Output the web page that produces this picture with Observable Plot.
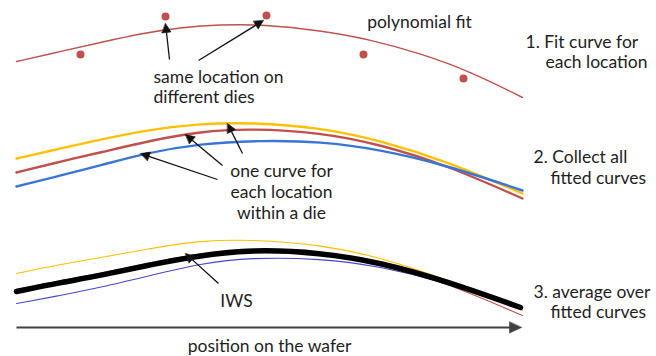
<!DOCTYPE html>
<html><head><meta charset="utf-8">
<script src="https://cdn.jsdelivr.net/npm/d3@7"></script>
<script src="https://cdn.jsdelivr.net/npm/@observablehq/plot@0.6"></script>
<style>html,body{margin:0;padding:0;background:#fff}#chart svg{display:block}</style>
</head><body><div id="chart"></div>
<script>
// ---- Step 1: measurements of one location on different dies and its fitted curve
const dieValues = [[80,54],[165,16],[266,15],[363,54],[463,78]];
const fitCurve = [[16,61],[60,51],[100,42],[140,33],[180,27],[220,24],[263,24],[320,30],[370,39],[420,53],[470,71],[522,97]];

// ---- Step 2: fitted curves, one per location within a die
const curveYellow = [[16,158],[60,148],[100,139],[150,129],[200,123],[250,122],[320,127],[380,140],[447,161],[522,193]];
const curveRed    = [[16,172],[60,161],[100,152],[150,140],[200,131],[250,128],[320,132],[380,144],[447,165],[522,198]];
const curveBlue   = [[16,186],[60,175],[100,165],[143,153],[200,143],[260,140],[320,141],[380,149],[447,165],[522,190]];

// ---- Step 3: fitted curves and their average (IWS)
const avgYellow = [[16,273],[60,264],[100,257],[150,248],[200,240],[250,239],[320,244],[380,257],[447,279],[522,310]];
const avgRed    = [[16,289],[60,280],[100,273],[150,262],[200,253],[250,248],[320,251],[380,262],[447,283],[522,315]];
const avgBlue   = [[16,303],[60,295],[100,287],[150,275],[200,263],[250,257],[320,258],[380,266],[447,282],[520,308]];
const iwsCurve  = [[16,291],[60,282],[100,275],[150,264],[200,255],[250,249],[320,252],[380,262],[447,281],[520,307]];

// ---- annotation arrows (tail -> tip)
const pointerArrows = [
  {x1:169,y1:59,x2:165,y2:23},
  {x1:198,y1:60,x2:263,y2:20},
  {x1:242,y1:153,x2:227,y2:123},
  {x1:222,y1:165,x2:185,y2:134},
  {x1:217,y1:179,x2:140,y2:153},
  {x1:218,y1:283,x2:185,y2:253}
];
const axisArrow = [{x1:16,y1:327,x2:521,y2:327}];

// ---- labels
const labelTexts   = ["polynomial fit","same location on","different dies","1. Fit curve for","each location",
                      "one curve for","each location","within a die","2. Collect all","fitted curves",
                      "IWS","position on the wafer","3. average over","fitted curves"];
const labelX       = [419,153,153,525,545,281,281,281,533,550,236,269,533,550];
const labelY       = [22,76.5,96.5,41.5,61.5,170.5,192,213,156.5,178,301,346,291.5,311.5];
const labelAnchors = ["middle","start","start","start","start","middle","middle","middle","start","start","middle","middle","start","start"];

const labels = labelTexts.map((t,i)=>({text:t,x:labelX[i],y:labelY[i],anchor:labelAnchors[i]}));
const pts = a => a.map(([x,y])=>({x,y}));

function heads(arrs, len, half){
  const out=[];
  arrs.forEach((a,i)=>{
    const dx=a.x2-a.x1, dy=a.y2-a.y1, L=Math.hypot(dx,dy), ux=dx/L, uy=dy/L;
    const bx=a.x2-ux*len, by=a.y2-uy*len;
    out.push({id:i,x:a.x2,y:a.y2},{id:i,x:bx-uy*half,y:by+ux*half},{id:i,x:bx+uy*half,y:by-ux*half});
  });
  return out;
}
function shafts(arrs, len){
  return arrs.map(a=>{
    const dx=a.x2-a.x1, dy=a.y2-a.y1, L=Math.hypot(dx,dy);
    return {x1:a.x1,y1:a.y1,x2:a.x2-dx/L*(len-1),y2:a.y2-dy/L*(len-1)};
  });
}

const RED="#c0504d", YEL="#ffc000", BLU="#3a75d6", BLU3="#4646cc", TXT="#1e1e1e", GRAY="#404040";
const line = (d, stroke, w) => Plot.line(pts(d), {x:"x", y:"y", stroke, strokeWidth:w, curve:"basis"});
const txt = anchor => Plot.text(labels.filter(d=>d.anchor===anchor), {x:"x", y:"y", text:"text", textAnchor:anchor, lineAnchor:"middle", fontSize:17.5, fill:TXT});

const chart = Plot.plot({
  width:656, height:356, margin:0,
  x:{domain:[0,656], axis:null},
  y:{domain:[356,0], axis:null},
  style:{fontFamily:"Lato, 'Open Sans', sans-serif", background:"#fff"},
  marks:[
    line(fitCurve, RED, 1.4),
    Plot.dot(pts(dieValues), {x:"x", y:"y", r:4, fill:RED}),
    line(curveYellow, YEL, 2.4),
    line(curveRed, RED, 2.4),
    line(curveBlue, BLU, 2.4),
    line(avgYellow, YEL, 1.1),
    line(avgRed, RED, 1.1),
    line(avgBlue, BLU3, 1.1),
    line(iwsCurve, "#000", 5.5),
    Plot.link(shafts(pointerArrows,9), {x1:"x1",y1:"y1",x2:"x2",y2:"y2", stroke:"#111", strokeWidth:1.3}),
    Plot.line(heads(pointerArrows,9,4.5), {x:"x",y:"y",z:"id",fill:"#111",stroke:"#111",strokeWidth:0.6,curve:"linear-closed"}),
    Plot.link(shafts(axisArrow,12), {x1:"x1",y1:"y1",x2:"x2",y2:"y2", stroke:GRAY, strokeWidth:2.2}),
    Plot.line(heads(axisArrow,12,5.5), {x:"x",y:"y",z:"id",fill:GRAY,stroke:GRAY,strokeWidth:0.6,curve:"linear-closed"}),
    txt("start"),
    txt("middle")
  ]
});
document.getElementById("chart").appendChild(chart);
</script></body></html>
